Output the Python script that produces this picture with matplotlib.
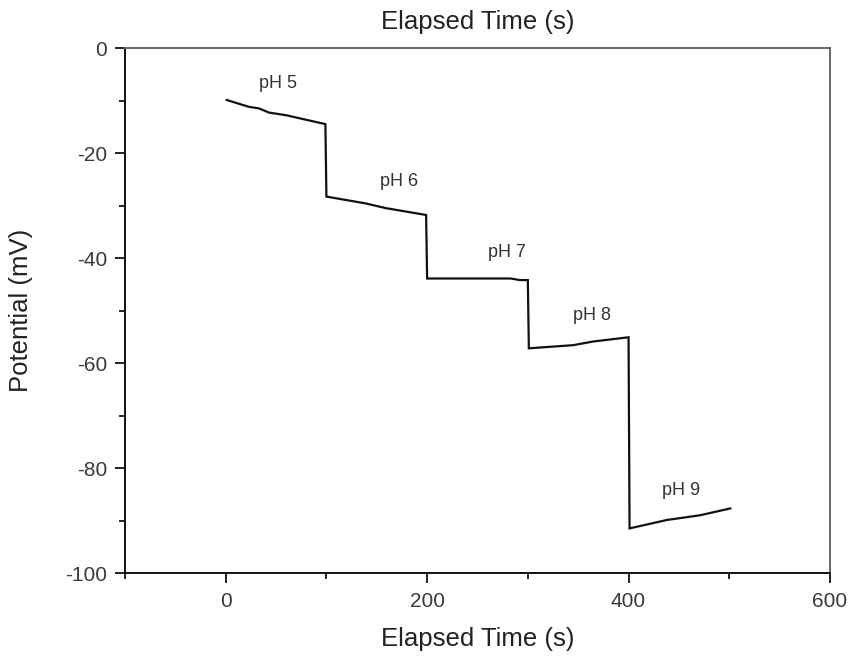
import matplotlib
matplotlib.use("Agg")
import matplotlib.pyplot as plt
from matplotlib.ticker import MultipleLocator

plt.rcParams['font.family'] = ['Liberation Sans', 'DejaVu Sans']
plt.rcParams['axes.unicode_minus'] = False

# Data
time_s = [1, 23, 33, 43, 60, 99, 100, 139, 159, 199, 200, 283, 292, 300,
          301, 345, 365, 400, 401, 438, 471, 501]
potential_mv = [-9.9, -11.2, -11.5, -12.3, -12.8, -14.5, -28.3, -29.6, -30.5, -31.8,
                -43.9, -43.9, -44.2, -44.2, -57.2, -56.6, -55.9, -55.1, -91.5,
                -89.9, -89.0, -87.7]
label_text = ["pH 5", "pH 6", "pH 7", "pH 8", "pH 9"]
label_x = [52, 172, 279, 364, 452]
label_y = [-6.7, -25.5, -39.0, -50.9, -84.2]

fig = plt.figure(figsize=(8.49, 6.56), dpi=100)
ax = fig.add_axes([0.1472, 0.1265, 0.8304, 0.8003])

ax.plot(time_s, potential_mv, color='#111111', lw=1.6, solid_joinstyle='miter')
for t, x, y in zip(label_text, label_x, label_y):
    ax.text(x, y, t, ha='center', va='center', fontsize=13, color='#333333')

ax.set_xlim(-100, 600)
ax.set_ylim(-100, 0)
ax.xaxis.set_major_locator(MultipleLocator(200))
ax.xaxis.set_minor_locator(MultipleLocator(100))
ax.yaxis.set_major_locator(MultipleLocator(20))
ax.yaxis.set_minor_locator(MultipleLocator(10))
ax.tick_params(which='both', direction='out', colors='#111111', labelcolor='#3a3a3a',
               labelsize=15, width=1.3, top=False, right=False)
ax.tick_params(which='major', length=7.5)
ax.tick_params(axis='y', which='major', pad=5.5)
ax.tick_params(axis='x', which='major', pad=6.5)
ax.tick_params(which='minor', length=4.5)

for s in ['left', 'bottom']:
    ax.spines[s].set_color('#111111')
    ax.spines[s].set_linewidth(1.4)
for s in ['top', 'right']:
    ax.spines[s].set_color('#666666')
    ax.spines[s].set_linewidth(1.4)

ax.set_xlabel('Elapsed Time (s)', fontsize=18.5, color='#222222')
ax.set_ylabel('Potential (mV)', fontsize=18.5, color='#222222')
ax.xaxis.set_label_coords(0.5, -0.102)
ax.yaxis.set_label_coords(-0.130, 0.5)
ax.set_title('Elapsed Time (s)', fontsize=18.5, color='#222222', pad=14)

fig.savefig('out.png', dpi=100)
